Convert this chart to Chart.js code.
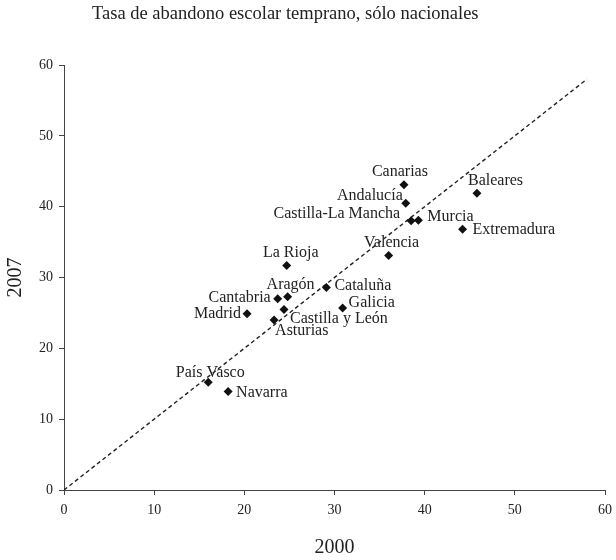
<!DOCTYPE html>
<html lang="es">
<head>
  <meta charset="UTF-8">
  <title>Tasa de abandono escolar temprano</title>
  <script src="https://cdn.jsdelivr.net/npm/chart.js"></script>
  <style>
    body {
      margin: 0;
      background: #ffffff;
    }
    #wrap {
      position: relative;
      width: 616px;
      height: 560px;
    }
    #titulo {
      position: absolute;
      left: 92px;
      top: 3px;
      margin: 0;
      font-family: "Liberation Serif", serif;
      font-size: 18.5px;
      font-weight: normal;
      color: #222;
    }
  </style>
</head>
<body>

<div id="wrap">
  <canvas id="grafico" width="616" height="560"></canvas>
  <h2 id="titulo">Tasa de abandono escolar temprano, sólo nacionales</h2>
</div>

<script>
// comunidades autónomas
const regiones = ['País Vasco', 'Navarra', 'Madrid', 'Cantabria', 'Aragón', 'La Rioja',
  'Castilla y León', 'Asturias', 'Cataluña', 'Galicia', 'Valencia', 'Canarias',
  'Andalucía', 'Castilla-La Mancha', 'Murcia', 'Extremadura', 'Baleares'];
// tasa en 2000 (eje x) y 2007 (eje y)
const tasa2000 = [16.0, 18.2, 20.3, 23.7, 24.8, 24.7, 24.4, 23.3, 29.1, 30.9, 36.0, 37.7, 37.9, 38.5, 39.3, 44.2, 45.8];
const tasa2007 = [15.2, 13.9, 24.9, 27.0, 27.3, 31.7, 25.5, 24.0, 28.6, 25.7, 33.1, 43.1, 40.5, 38.0, 38.1, 36.8, 41.9];
// diagonal de referencia
const diagX = [0, 58];
const diagY = [0, 58];
const ticksEje = [0, 10, 20, 30, 40, 50, 60];

// donde va cada etiqueta respecto a su punto
const posEtiqueta = {
  'País Vasco': ['center', 2, -10],
  'Navarra': ['left', 8, 1],
  'Madrid': ['right', -6, 0],
  'Cantabria': ['right', -7, -1],
  'Aragón': ['center', 3, -12],
  'La Rioja': ['center', 4, -13],
  'Castilla y León': ['left', 6, 9],
  'Asturias': ['left', 1, 11],
  'Cataluña': ['left', 8, -2],
  'Galicia': ['left', 6, -5],
  'Valencia': ['center', 3, -13],
  'Canarias': ['center', -4, -13],
  'Andalucía': ['right', -3, -7],
  'Castilla-La Mancha': ['right', -11, -7],
  'Murcia': ['left', 9, -3],
  'Extremadura': ['left', 10, 0],
  'Baleares': ['left', -9, -12]
};

const serif = 'Liberation Serif';

const etiquetas = {
  id: 'etiquetas',
  afterDatasetsDraw(chart) {
    const ctx = chart.ctx;
    const meta = chart.getDatasetMeta(0);
    ctx.save();
    ctx.font = '16px "' + serif + '"';
    ctx.fillStyle = '#222';
    ctx.textBaseline = 'middle';
    meta.data.forEach((p, i) => {
      const nombre = regiones[i];
      const pos = posEtiqueta[nombre];
      ctx.textAlign = pos[0];
      ctx.fillText(nombre, p.x + pos[1], p.y + pos[2]);
    });
    ctx.restore();
  }
};

const puntos = tasa2000.map((x, i) => ({ x: x, y: tasa2007[i] }));
const diagonal = diagX.map((x, i) => ({ x: x, y: diagY[i] }));

new Chart(document.getElementById('grafico'), {
  type: 'scatter',
  data: {
    datasets: [{
      data: puntos,
      pointStyle: 'rectRot',
      pointRadius: 4.5,
      pointHoverRadius: 4.5,
      backgroundColor: '#111',
      borderColor: '#111',
      borderWidth: 0
    }, {
      data: diagonal,
      showLine: true,
      pointRadius: 0,
      borderColor: '#222',
      borderWidth: 1.4,
      borderDash: [4, 3]
    }]
  },
  options: {
    responsive: false,
    animation: false,
    layout: { padding: { top: 65, right: 11, left: 0, bottom: 0 } },
    plugins: {
      legend: { display: false },
      tooltip: { enabled: false }
    },
    scales: {
      x: {
        type: 'linear',
        min: 0,
        max: 60,
        afterBuildTicks: (s) => { s.ticks = ticksEje.map(v => ({ value: v })); },
        afterFit: (s) => { s.height = 70; s.paddingRight = 0; s.paddingLeft = 0; },
        grid: { drawOnChartArea: false, tickLength: 5, color: '#444' },
        border: { color: '#444', width: 1 },
        ticks: { color: '#222', padding: 7, font: { family: serif, size: 14 } },
        title: { display: true, text: '2000', color: '#222', font: { family: serif, size: 20 }, padding: { top: 4, bottom: 0 } }
      },
      y: {
        type: 'linear',
        min: 0,
        max: 60,
        afterBuildTicks: (s) => { s.ticks = ticksEje.map(v => ({ value: v })); },
        afterFit: (s) => { s.width = 64; },
        grid: { drawOnChartArea: false, tickLength: 5, color: '#444' },
        border: { color: '#444', width: 1 },
        ticks: { color: '#222', padding: 6, font: { family: serif, size: 14 } },
        title: { display: true, text: '2007', color: '#222', font: { family: serif, size: 20 }, padding: { top: 4, bottom: 4 } }
      }
    }
  },
  plugins: [etiquetas]
});
</script>

</body>
</html>
